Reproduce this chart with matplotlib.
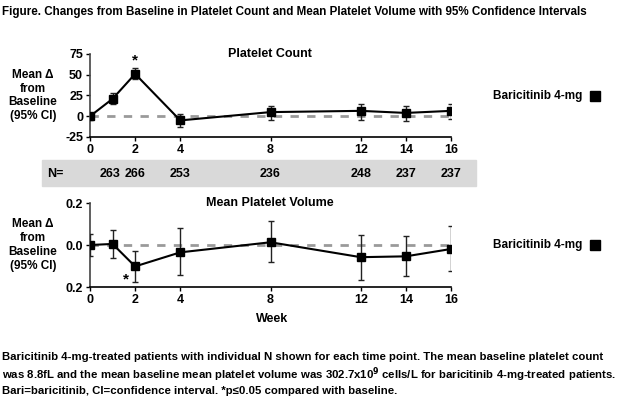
import matplotlib.pyplot as plt
from matplotlib.patches import Rectangle

plt.rcParams['font.family'] = ['Liberation Sans', 'DejaVu Sans']
plt.rcParams['font.weight'] = 'bold'

weeks = [0, 1, 2, 4, 8, 12, 14, 16]
tick_weeks = [0, 2, 4, 8, 12, 14, 16]
n_weeks = [1, 2, 4, 8, 12, 14, 16]
n_vals = ["263", "266", "253", "236", "248", "237", "237"]

# platelet count, mean change and 95% CI
plt_mean = [0, 21, 51, -5, 5, 6.5, 4, 6.5]
plt_lo = [-4, 14.5, 45, -13, -4, -4, -5.6, -2.8]
plt_hi = [4, 28, 57.7, 2.4, 12.5, 14.5, 12.5, 14.5]

# mean platelet volume
mpv_mean = [0.0, 0.005, -0.102, -0.035, 0.013, -0.058, -0.054, -0.019]
mpv_lo = [-0.053, -0.064, -0.176, -0.143, -0.083, -0.166, -0.146, -0.126]
mpv_hi = [0.053, 0.07, -0.03, 0.08, 0.114, 0.048, 0.043, 0.091]

W, H = 624, 397
fig = plt.figure(figsize=(W / 100, H / 100), dpi=100)


def fx(x):
    return x / W


def fy(y):
    return 1 - y / H


def panel(top, bot, mean, lo, hi, ylim, yticks, ylabels, title):
    ax = fig.add_axes([fx(90), fy(bot), fx(451 - 90), (bot - top) / H])
    ax.plot([0, 16], [0, 0], ls=(0, (3, 3)), color='#9a9a9a', lw=2, zorder=1)
    err = [[m - l for m, l in zip(mean, lo)], [h - m for m, h in zip(mean, hi)]]
    ax.errorbar(weeks, mean, yerr=err, color='black', lw=1.5, marker='s', ms=6,
                ecolor='#222222', elinewidth=1, capsize=2.5, capthick=1, zorder=3)
    ax.set_xlim(0, 16)
    ax.set_ylim(*ylim)
    ax.set_xticks(tick_weeks)
    ax.set_yticks(yticks)
    ax.set_yticklabels(ylabels)
    for s in ['top', 'right']:
        ax.spines[s].set_visible(False)
    for s in ['left', 'bottom']:
        ax.spines[s].set_linewidth(1.2)
    ax.spines['left'].set_color('#444444')
    ax.tick_params(length=3, width=1, labelsize=9, pad=2)
    for t in ax.get_xticklabels() + ax.get_yticklabels():
        t.set_fontweight('bold')
    fig.text(fx(270), fy(top), title, ha='center', va='center', fontsize=9)
    ymid = (top + bot) / 2
    fig.text(fx(33), fy(ymid), "Mean \u0394\nfrom\nBaseline\n(95% CI)", ha='center',
             va='center', fontsize=8.5, linespacing=1.2)
    fig.text(fx(493), fy(ymid), "Baricitinib 4-mg", ha='left', va='center', fontsize=8.5)
    fig.patches.append(Rectangle((fx(590), fy(ymid + 5)), fx(10), 10 / H,
                                 transform=fig.transFigure, color='black'))
    return ax


ax1 = panel(54, 137, plt_mean, plt_lo, plt_hi, (-25, 75), [-25, 0, 25, 50, 75],
            ["-25", "0", "25", "50", "75"], "Platelet Count")
ax1.text(2, 59, "*", ha='center', va='bottom', fontsize=11)

ax2 = panel(203, 287, mpv_mean, mpv_lo, mpv_hi, (-0.2, 0.2), [-0.2, 0.0, 0.2],
            ["0.2", "0.0", "0.2"], "Mean Platelet Volume")
ax2.text(1.6, -0.13, "*", ha='center', va='top', fontsize=11)

# N row
fig.patches.append(Rectangle((fx(42), fy(186)), fx(476 - 42), 26 / H,
                             transform=fig.transFigure, color='#d9d9d9', zorder=0))
fig.text(fx(47), fy(174), "N=", ha='left', va='center', fontsize=9)
for wk, n in zip(n_weeks, n_vals):
    x = ax1.transData.transform((wk, 0))[0]
    fig.text(x / W - (0.004 if wk == 1 else 0), fy(174), n, ha='center', va='center', fontsize=9)

fig.text(fx(272), fy(319), "Week", ha='center', va='center', fontsize=9)

fig.text(fx(2), fy(12), "Figure. Changes from Baseline in Platelet Count and Mean Platelet Volume "
         "with 95% Confidence Intervals", ha='left', va='center', fontsize=8.4)

foot = ("Baricitinib 4-mg-treated patients with individual N shown for each time point. The mean baseline platelet count\n"
        "was 8.8fL and the mean baseline mean platelet volume was 302.7x10$^{\\mathbf{9}}$ cells/L for baricitinib 4-mg-treated patients.\n"
        "Bari=baricitinib, CI=confidence interval. *p\u22640.05 compared with baseline.")
fig.text(fx(2), fy(374), foot, ha='left', va='center', fontsize=8.2, linespacing=1.25)

fig.savefig("out.png", dpi=100)
